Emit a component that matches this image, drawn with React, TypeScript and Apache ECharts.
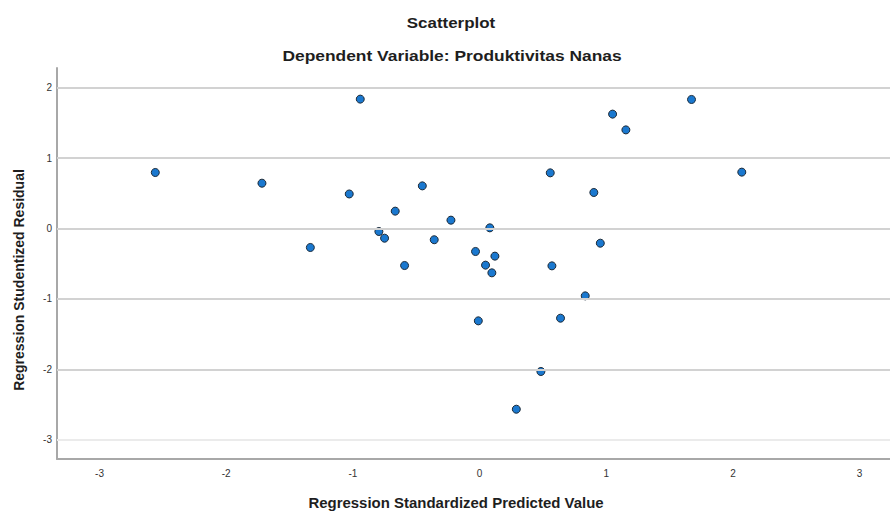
import React, { useEffect, useRef } from "react";
import * as echarts from "echarts";

const chartTitle = "Scatterplot";
const chartSubtitle = "Dependent Variable: Produktivitas Nanas";
const xAxisTitle = "Regression Standardized Predicted Value";
const yAxisTitle = "Regression Studentized Residual";

const predicted = [
  -2.56, -1.718, -1.336, -1.029, -0.942, -0.795, -0.75, -0.666, -0.592, -0.452,
  -0.358, -0.226, -0.032, -0.01, 0.047, 0.081, 0.097, 0.121, 0.29, 0.484,
  0.558, 0.571, 0.639, 0.834, 0.902, 0.953, 1.05, 1.155, 1.673, 2.07,
];
const residual = [
  0.795, 0.643, -0.27, 0.49, 1.837, -0.043, -0.138, 0.246, -0.526, 0.605,
  -0.16, 0.118, -0.327, -1.312, -0.521, 0.009, -0.63, -0.393, -2.567, -2.031,
  0.79, -0.531, -1.274, -0.957, 0.511, -0.209, 1.624, 1.4, 1.832, 0.8,
];
const xTicks = [-3, -2, -1, 0, 1, 2, 3];
const yTicks = [-3, -2, -1, 0, 1, 2];

export default function App() {
  const ref = useRef<HTMLDivElement>(null);
  useEffect(() => {
    if (!ref.current) return;
    const chart = echarts.init(ref.current, undefined, { renderer: "svg" });
    const points = predicted.map((x, i) => [x, residual[i]]);
    const font = "Arial, 'Liberation Sans', sans-serif";
    const textStyle = (text: string, size: number, weight: string) => ({
      text,
      textAlign: "center",
      textVerticalAlign: "middle",
      fontSize: size,
      fontWeight: weight,
      fontFamily: font,
      fill: "#1e1e1e",
    });
    chart.setOption({
      animation: false,
      backgroundColor: "#ffffff",
      grid: { left: 57, right: 0, top: 68, bottom: 52, containLabel: false },
      xAxis: {
        type: "value",
        min: -3.336,
        max: 3.24,
        axisLine: { show: true, onZero: false, lineStyle: { color: "#a8a8a8", width: 2 } },
        axisTick: { show: false },
        splitLine: { show: false },
        axisLabel: {
          customValues: xTicks,
          color: "#333",
          fontSize: 10,
          fontFamily: font,
          margin: 9,
        },
      },
      yAxis: {
        type: "value",
        min: -3.274,
        max: 2.279,
        axisLine: { show: true, onZero: false, lineStyle: { color: "#a8a8a8", width: 2 } },
        axisTick: { show: false },
        splitLine: { show: false },
        axisLabel: {
          customValues: yTicks,
          color: "#333",
          fontSize: 10,
          fontFamily: font,
          margin: 5,
        },
      },
      graphic: [
        {
          type: "text",
          x: 451,
          y: 22.5,
          scaleX: 1.13,
          style: textStyle(chartTitle, 15, "bold"),
        },
        {
          type: "text",
          x: 452,
          y: 55,
          scaleX: 1.16,
          style: textStyle(chartSubtitle, 15, "bold"),
        },
        {
          type: "text",
          x: 456,
          y: 503,
          scaleX: 1.07,
          style: textStyle(xAxisTitle, 14, "bold"),
        },
        {
          type: "text",
          x: 18.5,
          y: 280,
          rotation: Math.PI / 2,
          style: textStyle(yAxisTitle, 14, "bold"),
        },
      ],
      series: [
        {
          type: "line",
          data: [],
          z: 1,
          silent: true,
          markLine: {
            silent: true,
            symbol: ["none", "none"],
            label: { show: false },
            animation: false,
            data: yTicks.map((v) => ({
              yAxis: v,
              lineStyle: {
                type: "solid",
                color: v === -3 ? "#ebebeb" : "#d2d2d2",
                width: 2,
              },
            })),
          },
        },
        {
          type: "scatter",
          z: 3,
          data: points,
          symbol: "circle",
          symbolSize: 8,
          itemStyle: { color: "#1a78cf", borderColor: "#1c2a38", borderWidth: 1, opacity: 1 },
        },
      ],
    });
    return () => chart.dispose();
  }, []);
  return <div ref={ref} style={{ width: 890, height: 511, position: "absolute", left: 0, top: 0 }} />;
}
